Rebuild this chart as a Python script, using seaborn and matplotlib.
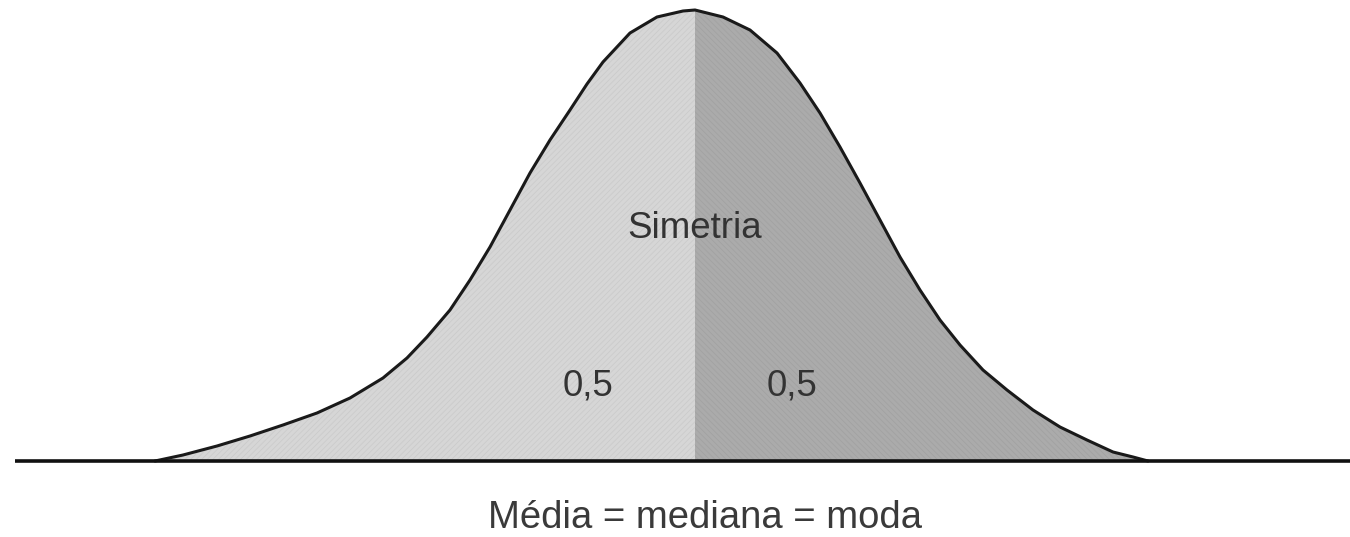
import matplotlib
matplotlib.use("Agg")
import matplotlib.pyplot as plt
import seaborn as sns
import pandas as pd

# Outline of the distribution: horizontal position and height above the baseline
x_esquerda = [155, 183, 217, 250, 283, 317, 350, 383, 407, 427, 450, 470, 490, 510,
              530, 550, 570, 587, 603, 630, 657, 683, 695]
h_esquerda = [0, 6, 15, 25, 36, 48, 63, 83, 103, 124, 151, 181, 214, 251,
              288, 321, 351, 377, 399, 428, 444, 450, 451]
x_direita = [695, 723, 750, 777, 800, 820, 840, 860, 880, 900, 920, 940, 960, 983,
             1007, 1033, 1060, 1087, 1113, 1133, 1148]
h_direita = [451, 444, 431, 408, 378, 348, 314, 278, 241, 204, 171, 141, 116, 91,
             71, 51, 34, 21, 9, 4, 0]

rotulo_centro = "Simetria"
rotulos_metades = ["0,5", "0,5"]
rotulo_eixo = "Média = mediana = moda"

curva = pd.DataFrame({
    "x": x_esquerda + x_direita[1:],
    "altura": h_esquerda + h_direita[1:],
})

sns.set_theme(style="white")
plt.rcParams["font.family"] = ["Liberation Sans", "DejaVu Sans"]
plt.rcParams["hatch.linewidth"] = 0.6

fig = plt.figure(figsize=(13.5, 5.37), dpi=100)
ax = fig.add_axes([0, 0, 1, 1])
ax.set_xlim(0, 1350)
ax.set_ylim(-76, 461)
ax.set_axis_off()

# Two halves of the area under the curve
ax.fill_between(x_esquerda, 0, h_esquerda, facecolor="#d6d6d6", edgecolor="#cbcbcb",
                hatch="//////", linewidth=0, zorder=1)
ax.fill_between(x_direita, 0, h_direita, facecolor="#ababab", edgecolor="#a2a2a2",
                hatch="\\\\\\\\\\\\", linewidth=0, zorder=1)

# Curve outline
sns.lineplot(data=curva, x="x", y="altura", sort=False, color="#1a1a1a",
             linewidth=2.2, ax=ax, zorder=3, solid_joinstyle="round",
             solid_capstyle="round")

# Baseline
base_inicio, base_fim = 15, 1350
ax.plot([base_inicio, base_fim], [0, 0], color="#111111", linewidth=2.6, zorder=4,
        solid_capstyle="butt")

cor_texto = "#333333"
ax.text(695, 223, rotulo_centro, ha="center", va="baseline", fontsize=26.5, color=cor_texto, zorder=5)
ax.text(588, 65, rotulos_metades[0], ha="center", va="baseline", fontsize=26.5, color=cor_texto, zorder=5)
ax.text(792, 65, rotulos_metades[1], ha="center", va="baseline", fontsize=26.5, color=cor_texto, zorder=5)
ax.text(705, -67, rotulo_eixo, ha="center", va="baseline", fontsize=27.5, color="#3a3a3a", zorder=5)

fig.savefig("out.png", dpi=100)
